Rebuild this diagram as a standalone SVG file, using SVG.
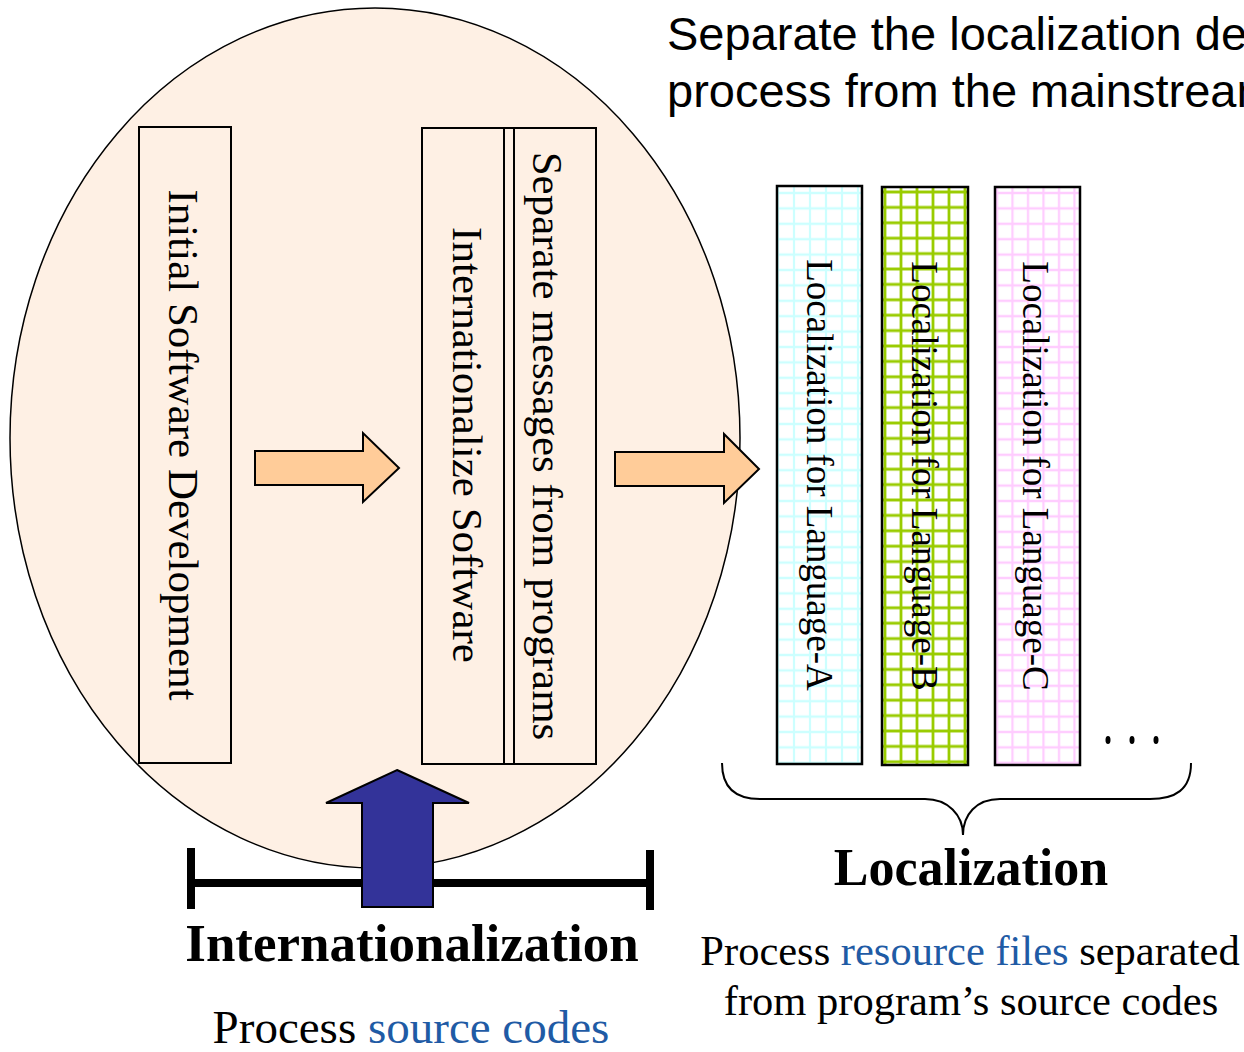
<svg xmlns="http://www.w3.org/2000/svg" width="1244" height="1052" viewBox="0 0 1244 1052">
<style>
.box{fill:none;stroke:#000;stroke-width:2}
.lbox{stroke:#000;stroke-width:2.5}
.serif{font-family:"Liberation Serif","Times New Roman",serif;fill:#000}
.sans{font-family:"Liberation Sans",Arial,sans-serif;fill:#000}
.vt{font-size:43px;text-anchor:middle}
.lt{font-size:37px;text-anchor:middle}
.blk{fill:#000}
.blue{fill:#1f5ba5}
.arr{fill:#ffcc99;stroke:#000;stroke-width:2;stroke-linejoin:miter}
</style>
<defs>
<pattern id="gA" patternUnits="userSpaceOnUse" x="770" y="185.3" width="16" height="15.4">
<path d="M8 0V15.4M0 7.7H16" stroke="#ccffff" stroke-width="2.2" fill="none"/>
</pattern>
<pattern id="gB" patternUnits="userSpaceOnUse" x="877" y="184.3" width="16" height="15.4">
<path d="M8 0V15.4M0 7.7H16" stroke="#99cc00" stroke-width="2.8" fill="none"/>
</pattern>
<pattern id="gC" patternUnits="userSpaceOnUse" x="989" y="185.3" width="15.5" height="15.4">
<path d="M8 0V15.4M0 7.7H15.5" stroke="#ffccff" stroke-width="2.2" fill="none"/>
</pattern>
</defs>
<rect width="1244" height="1052" fill="#fff"/>
<g id="i18n-area">
<ellipse cx="375" cy="438" rx="365" ry="430" fill="#fef0e4" stroke="#000" stroke-width="1.5"/>
</g>
<g id="title">
<text class="sans" font-size="47" x="667" y="50">Separate the localization development</text>
<text class="sans" font-size="47" x="667" y="107">process from the mainstream</text>
</g>
<g id="node-initial">
<rect class="box" x="139" y="127" width="92" height="636"/>
<text class="serif vt" transform="translate(169,445) rotate(90)">Initial Software Development</text>
</g>
<g id="node-internationalize">
<rect class="box" x="422" y="128" width="174" height="636"/>
<line x1="504" y1="128" x2="504" y2="764" stroke="#000" stroke-width="2"/>
<line x1="514" y1="128" x2="514" y2="764" stroke="#000" stroke-width="2"/>
<text class="serif vt" transform="translate(453,445) rotate(90)">Internationalize Software</text>
<text class="serif vt" transform="translate(533,446) rotate(90)">Separate messages from programs</text>
</g>
<g id="node-loc-a">
<rect x="777" y="186" width="85" height="578" fill="#fff"/>
<rect x="777" y="186" width="85" height="578" fill="url(#gA)" class="lbox"/>
<text class="serif lt" transform="translate(807,475) rotate(90)">Localization for Language-A</text>
</g>
<g id="node-loc-b">
<rect x="882" y="187" width="86" height="578" fill="#fff"/>
<rect x="882" y="187" width="86" height="578" fill="url(#gB)" class="lbox"/>
<text class="serif lt" transform="translate(912,476) rotate(90)">Localization for Language-B</text>
</g>
<g id="node-loc-c">
<rect x="995" y="187" width="85" height="578" fill="#fff"/>
<rect x="995" y="187" width="85" height="578" fill="url(#gC)" class="lbox"/>
<text class="serif lt" transform="translate(1023,476) rotate(90)">Localization for Language-C</text>
</g>
<g id="ellipsis">
<ellipse cx="1108" cy="740" rx="2.5" ry="4" class="blk"/>
<ellipse cx="1132" cy="740" rx="2.5" ry="4" class="blk"/>
<ellipse cx="1156" cy="740" rx="2.5" ry="4" class="blk"/>
</g>
<g id="connectors">
<path class="arr" d="M255 451H363V433L399 468L363 502V485H255Z"/>
<path class="arr" d="M615 452H724V434L759 469L724 503V486H615Z"/>
<path d="M722 763C722 790 738 799 760 799L925 799C948 799 963 815 963 835C963 815 976 799 1000 799L1150 799C1175 799 1191 790 1191 763" fill="none" stroke="#000" stroke-width="2"/>
<g id="i18n-bar" stroke="#000" stroke-width="8">
<line x1="191" y1="883" x2="650" y2="883"/>
<line x1="191" y1="848" x2="191" y2="909"/>
<line x1="650" y1="850" x2="650" y2="910"/>
</g>
<path d="M397 770L469 803H433V907H362V803H326Z" fill="#333399" stroke="#000" stroke-width="2"/>
</g>
<g id="labels">
<text class="serif" font-size="53" font-weight="bold" text-anchor="middle" x="412" y="961">Internationalization</text>
<text class="serif" font-size="47" text-anchor="middle" x="411" y="1043">Process <tspan class="blue">source codes</tspan></text>
<text class="serif" font-size="52" font-weight="bold" text-anchor="middle" x="971" y="885">Localization</text>
<text class="serif" font-size="42.5" text-anchor="middle" x="970" y="965">Process <tspan class="blue">resource files</tspan> separated</text>
<text class="serif" font-size="42.5" text-anchor="middle" x="971" y="1015">from program’s source codes</text>
</g>
</svg>
